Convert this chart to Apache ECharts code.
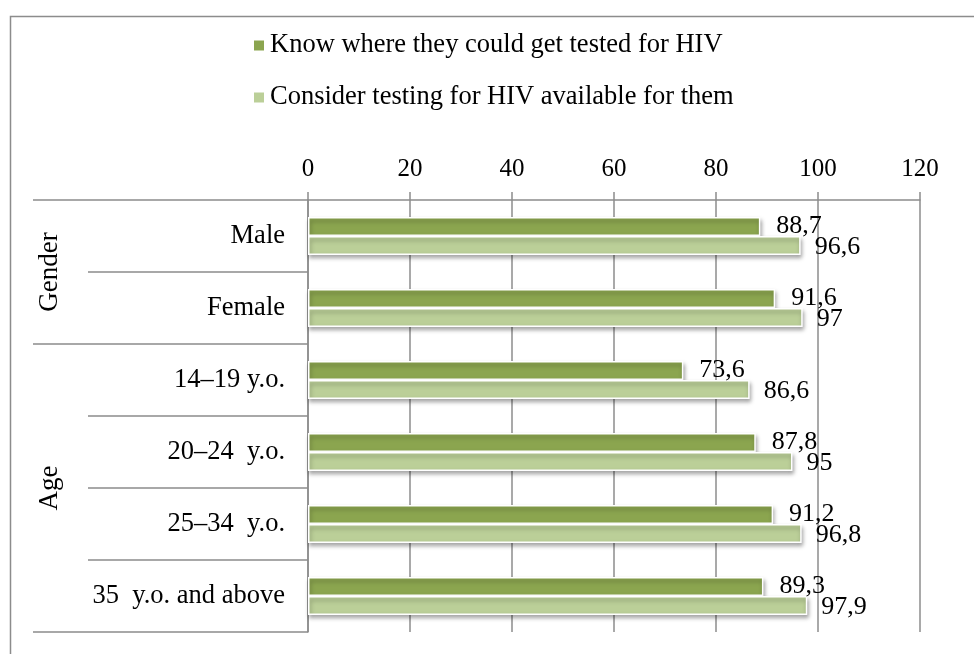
<!DOCTYPE html>
<html>
<head>
<meta charset="utf-8">
<title>HIV testing awareness</title>
<script src="https://cdn.jsdelivr.net/npm/echarts@6/dist/echarts.min.js"></script>
<style>
  html, body { margin: 0; padding: 0; background: #fff; }
  #chart { width: 974px; height: 654px; }
</style>
</head>
<body>
<div id="chart"></div>
<script>
// Respondent subgroups, top to bottom
const categories = ['Male', 'Female', '14–19 y.o.', '20–24  y.o.', '25–34  y.o.', '35  y.o. and above'];

// Share of respondents, %
const knowWhere = [88.7, 91.6, 73.6, 87.8, 91.2, 89.3];
const considerAvailable = [96.6, 97, 86.6, 95, 96.8, 97.9];

const seriesNames = ['Know where they could get tested for HIV', 'Consider testing for HIV available for them'];

// Outer grouping level: group names and the row index where each group starts/ends
const groupNames = ['Gender', 'Age'];
const groupBounds = [0, 2, 6];

const xTicks = { min: 0, max: 120, step: 20 };

const FONT = "'Liberation Serif', 'Times New Roman', serif";
const GRID_GREY = '#8c8c8c';

const groupCenters = groupNames.map((_, i) => (groupBounds[i] + groupBounds[i + 1]) / 2);

const fmt = v => String(v).replace('.', ',');

const barStyle = color => ({
  color: color,
  borderColor: '#ffffff',
  borderWidth: 1.5,
  shadowColor: 'rgba(0,0,0,0.35)',
  shadowBlur: 4,
  shadowOffsetX: 1,
  shadowOffsetY: 3
});

const chart = echarts.init(document.getElementById('chart'), null, { renderer: 'canvas' });

chart.setOption({
  animation: false,
  backgroundColor: '#ffffff',
  textStyle: { fontFamily: FONT, color: '#000' },
  graphic: [{
    type: 'rect',
    z: -10,
    shape: { x: 10.5, y: 16.5, width: 1200, height: 900 },
    style: { fill: 'none', stroke: GRID_GREY, lineWidth: 1.5 }
  }],
  legend: {
    orient: 'vertical',
    left: 247,
    top: 27,
    icon: 'rect',
    itemWidth: 12,
    itemHeight: 12,
    itemGap: 25,
    textStyle: { fontFamily: FONT, fontSize: 26.5, lineHeight: 26, color: '#000' },
    data: seriesNames
  },
  grid: { left: 308, right: 54, top: 200, bottom: 22 },
  xAxis: {
    type: 'value',
    position: 'top',
    min: xTicks.min,
    max: xTicks.max,
    interval: xTicks.step,
    axisLine: { show: true, lineStyle: { color: GRID_GREY, width: 1.5 } },
    axisTick: { show: true, length: 8, lineStyle: { color: GRID_GREY, width: 1.5 } },
    splitLine: { show: true, lineStyle: { color: GRID_GREY, width: 1.5 } },
    axisLabel: { fontFamily: FONT, fontSize: 25, color: '#000', margin: 18 }
  },
  yAxis: [{
    type: 'category',
    inverse: true,
    data: categories,
    axisLine: { show: true, lineStyle: { color: GRID_GREY, width: 1.5 } },
    axisTick: { show: true, length: 220, alignWithLabel: false, lineStyle: { color: GRID_GREY, width: 1.5 } },
    axisLabel: { fontFamily: FONT, fontSize: 26.5, color: '#000', margin: 23 }
  }, {
    type: 'value',
    inverse: true,
    position: 'left',
    min: groupBounds[0],
    max: groupBounds[groupBounds.length - 1],
    axisLine: { show: false },
    splitLine: { show: false },
    axisTick: { show: true, length: 275, customValues: groupBounds, lineStyle: { color: GRID_GREY, width: 1.5 } },
    axisLabel: {
      show: true,
      customValues: groupCenters,
      rotate: 90,
      margin: 245,
      fontFamily: FONT,
      fontSize: 27,
      color: '#000',
      formatter: v => groupNames[groupCenters.indexOf(v)] || ''
    }
  }],
  series: [{
    name: seriesNames[0],
    type: 'bar',
    yAxisIndex: 0,
    data: knowWhere,
    barWidth: 19,
    barGap: '0%',
    itemStyle: barStyle('#8ba54f'),
    label: { show: true, position: 'right', distance: 16, fontFamily: FONT, fontSize: 26, color: '#000', formatter: p => fmt(p.value) }
  }, {
    name: seriesNames[1],
    type: 'bar',
    yAxisIndex: 0,
    data: considerAvailable,
    barWidth: 19,
    itemStyle: barStyle('#bbcf98'),
    label: { show: true, position: 'right', distance: 14, offset: [0, 2], fontFamily: FONT, fontSize: 26, color: '#000', formatter: p => fmt(p.value) }
  }]
});
</script>
</body>
</html>
